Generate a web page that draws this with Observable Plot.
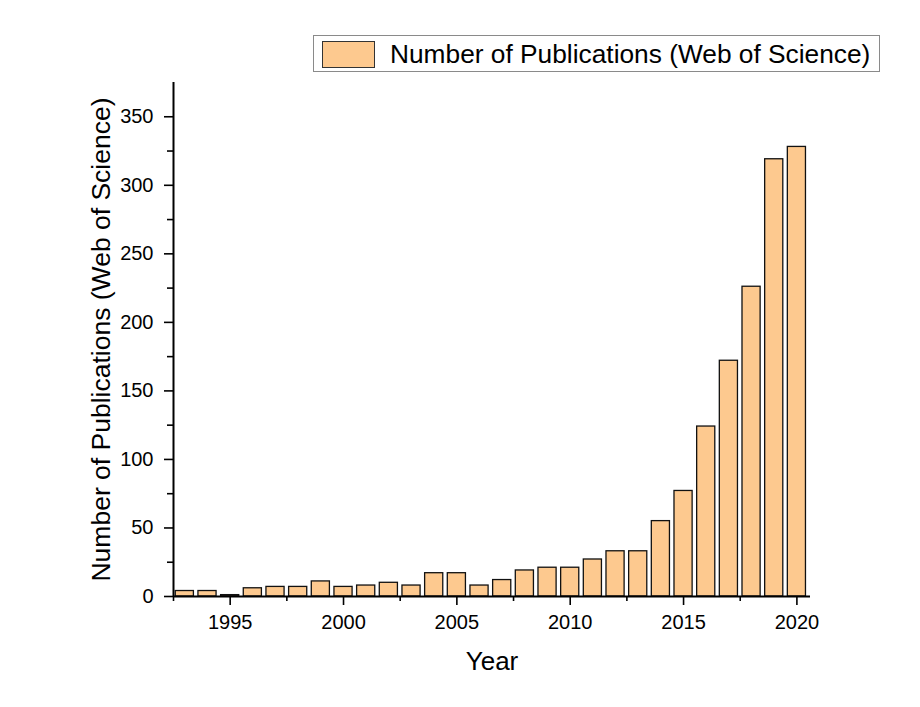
<!DOCTYPE html>
<html><head><meta charset="utf-8">
<script src="https://cdn.jsdelivr.net/npm/d3@7"></script>
<script src="https://cdn.jsdelivr.net/npm/@observablehq/plot@0.6"></script>
<style>
body{margin:0;background:#fff;font-family:"Liberation Sans",Arial,sans-serif;}
#wrap{position:relative;width:920px;height:707px;}
#legend{position:absolute;left:313px;top:35px;width:567px;height:37px;border:1px solid #8a8a8a;background:#fff;box-sizing:border-box;}
#legend .sw{position:absolute;left:8px;top:5px;width:53px;height:27px;background:#fdc98f;border:1.5px solid #333;box-sizing:border-box;}
#legend .lt{position:absolute;left:76px;top:0;line-height:36px;font-size:26.3px;color:#000;white-space:nowrap;}
</style></head>
<body><div id="wrap"><div id="chart"></div>
<div id="legend"><div class="sw"></div><div class="lt">Number of Publications (Web of Science)</div></div></div>
<script>
const years = [1993,1994,1995,1996,1997,1998,1999,2000,2001,2002,2003,2004,2005,2006,2007,2008,2009,2010,2011,2012,2013,2014,2015,2016,2017,2018,2019,2020];
const counts = [4,4,1,6,7,7,11,7,8,10,8,17,17,8,12,19,21,21,27,33,33,55,77,124,172,226,319,328];
const xMajor = [1995,2000,2005,2010,2015,2020];
const xMinor = [1992.5,1997.5,2002.5,2007.5,2012.5,2017.5];
const yMajor = [0,50,100,150,200,250,300,350];
const yMinor = [25,75,125,175,225,275,325];
const xDomain = [1992.5, 2020.6];
const yDomain = [0, 375];
const xTitle = "Year";
const yTitle = "Number of Publications (Web of Science)";
const barColor = "#fdc98f";

const data = years.map((y, i) => ({year: y, count: counts[i]}));

const chart = Plot.plot({
  width: 920, height: 707,
  marginLeft: 173, marginRight: 110, marginTop: 82, marginBottom: 111,
  style: {fontFamily: "'Liberation Sans', Arial, sans-serif", color: "#000", background: "transparent"},
  x: {domain: xDomain},
  y: {domain: yDomain},
  marks: [
    Plot.rectY(data, {x1: d => d.year - 0.4, x2: d => d.year + 0.4, y: "count", fill: barColor, stroke: "#111", strokeWidth: 1.3}),
    Plot.axisX({ticks: xMajor, tickSize: 9, tickPadding: 9, tickFormat: d => String(d), fontSize: 20, label: null, strokeWidth: 1.6}),
    Plot.axisX({ticks: xMinor, tickSize: 5, text: null, label: null, strokeWidth: 1.6}),
    Plot.axisY({ticks: yMajor, tickSize: 9, tickPadding: 11, fontSize: 20, label: null, strokeWidth: 1.6}),
    Plot.axisY({ticks: yMinor, tickSize: 6, text: null, label: null, strokeWidth: 1.6}),
    Plot.ruleY([yDomain[0]], {stroke: "#000", strokeWidth: 2}),
    Plot.ruleX([xDomain[0]], {stroke: "#000", strokeWidth: 2}),
    Plot.text([xTitle], {frameAnchor: "bottom", dy: 65, fontSize: 26, lineAnchor: "middle"}),
    Plot.text([yTitle], {frameAnchor: "left", textAnchor: "middle", rotate: -90, dx: -72, fontSize: 26.5, lineAnchor: "middle"})
  ]
});
document.getElementById("chart").appendChild(chart);
</script></body></html>
